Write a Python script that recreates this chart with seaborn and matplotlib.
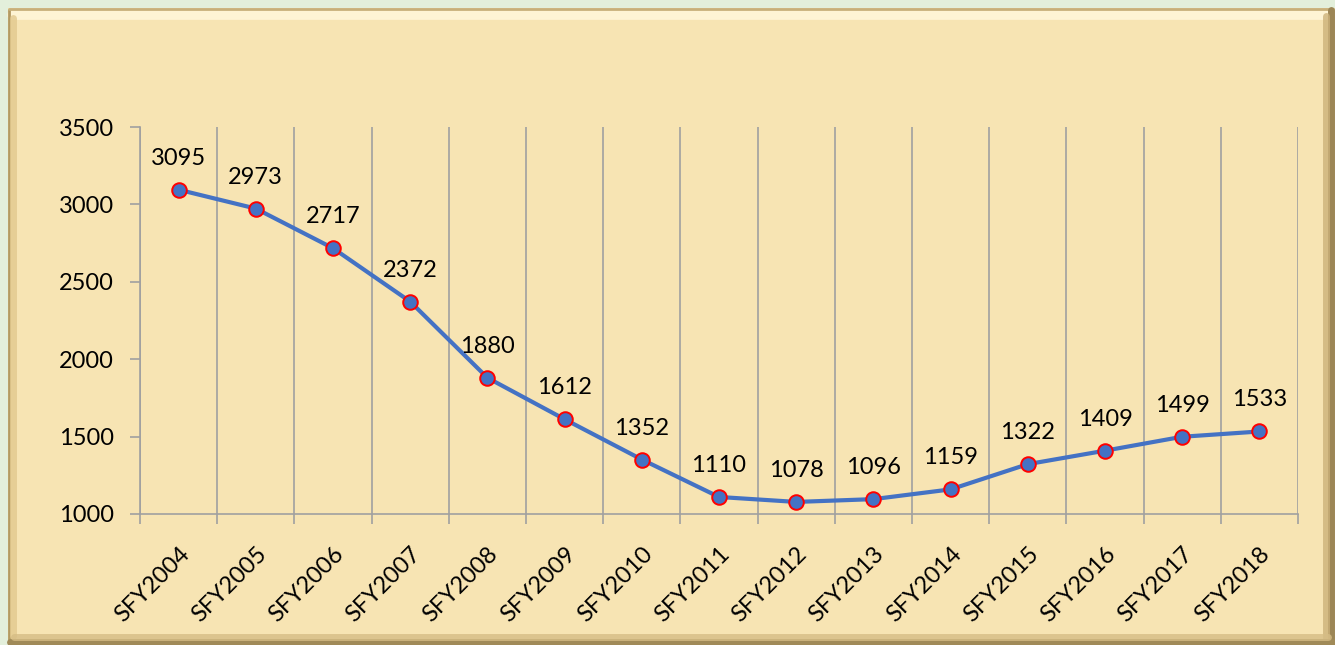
import matplotlib
matplotlib.use("Agg")
import matplotlib.pyplot as plt
import seaborn as sns
import pandas as pd
import numpy as np
from matplotlib.patches import Rectangle
from matplotlib.lines import Line2D

years = ["SFY2004", "SFY2005", "SFY2006", "SFY2007", "SFY2008", "SFY2009", "SFY2010",
         "SFY2011", "SFY2012", "SFY2013", "SFY2014", "SFY2015", "SFY2016", "SFY2017", "SFY2018"]
values = [3095, 2973, 2717, 2372, 1880, 1612, 1352, 1110, 1078, 1096, 1159, 1322, 1409, 1499, 1533]
y_ticks = [1000, 1500, 2000, 2500, 3000, 3500]

sns.set_theme(style="white")
plt.rcParams['font.family'] = ['Lato', 'DejaVu Sans']

W, H = 1335, 645
fig = plt.figure(figsize=(W / 100, H / 100), dpi=100)
fig.patch.set_facecolor('#e3efdb')

def fx(px):
    return px / W

def fy(py):
    return 1 - py / H

# papyrus-like framed background
fig.patches.append(Rectangle((fx(8), fy(645)), fx(1335) - fx(8), fy(8) - fy(645),
                             transform=fig.transFigure, facecolor='#f7e4b3',
                             edgecolor='none', zorder=-3))
# bevel highlights / shadows
fig.lines.append(Line2D([fx(12), fx(1326)], [fy(15), fy(15)], transform=fig.transFigure,
                        color='#fff6d8', lw=7, alpha=0.9, zorder=-2))
fig.lines.append(Line2D([fx(9), fx(9)], [fy(10), fy(643)], transform=fig.transFigure,
                        color='#b39a62', lw=2, zorder=-2))
fig.lines.append(Line2D([fx(13), fx(13)], [fy(18), fy(636)], transform=fig.transFigure,
                        color='#e2c98e', lw=5, alpha=0.8, zorder=-2))
fig.lines.append(Line2D([fx(9), fx(1333)], [fy(9), fy(9)], transform=fig.transFigure,
                        color='#c8b07a', lw=2, zorder=-2))
fig.lines.append(Line2D([fx(1331), fx(1331)], [fy(10), fy(645)], transform=fig.transFigure,
                        color='#9c8656', lw=5, zorder=-2))
fig.lines.append(Line2D([fx(1326), fx(1326)], [fy(16), fy(640)], transform=fig.transFigure,
                        color='#cdb27a', lw=5, alpha=0.8, zorder=-2))
fig.lines.append(Line2D([fx(10), fx(1333)], [fy(642), fy(642)], transform=fig.transFigure,
                        color='#a08a58', lw=5, zorder=-2))
fig.lines.append(Line2D([fx(14), fx(1328)], [fy(637), fy(637)], transform=fig.transFigure,
                        color='#d6bd85', lw=5, alpha=0.8, zorder=-2))

ax = fig.add_axes([fx(140), fy(514), fx(1298) - fx(140), fy(127) - fy(514)])
ax.set_zorder(5)
ax.patch.set_alpha(0)

df = pd.DataFrame({"year": years, "value": values})
sns.lineplot(data=df, x="year", y="value", ax=ax, sort=False, color='#4472c4',
             linewidth=3.0, marker='o', markersize=10.5, markerfacecolor='#4472c4',
             markeredgecolor='#ff0000', markeredgewidth=1.4, zorder=5)

for i, v in enumerate(values):
    ax.annotate(str(v), (i, v), xytext=(0, 18), textcoords='offset points',
                ha='center', va='baseline', fontsize=17, color='black', zorder=6)

ax.set_xlim(-0.5, len(years) - 0.5)
ax.set_ylim(1000, 3500)
ax.set_yticks(y_ticks)
ax.set_xticks(range(len(years)))
ax.set_xticklabels(years, rotation=45, ha='right', rotation_mode='anchor')
ax.set_xticks(np.arange(-0.5, len(years), 1), minor=True)
ax.grid(False)
ax.grid(which='minor', axis='x', color='#a0a0a0', linewidth=1.2)
ax.set_xlabel("")
ax.set_ylabel("")

ax.tick_params(axis='x', which='major', length=0, pad=21, labelsize=17, labelcolor='black')
ax.tick_params(axis='x', which='minor', length=7, width=1.2, color='#a0a0a0', direction='out',
               bottom=True)
ax.tick_params(axis='y', which='major', length=7, width=1.2, color='#a0a0a0',
               direction='out', pad=12, labelsize=17, labelcolor='black', left=True)

for s in ['top', 'right']:
    ax.spines[s].set_visible(False)
for s in ['left', 'bottom']:
    ax.spines[s].set_color('#a0a0a0')
    ax.spines[s].set_linewidth(1.2)

fig.savefig("out.png", dpi=100, facecolor=fig.get_facecolor())
